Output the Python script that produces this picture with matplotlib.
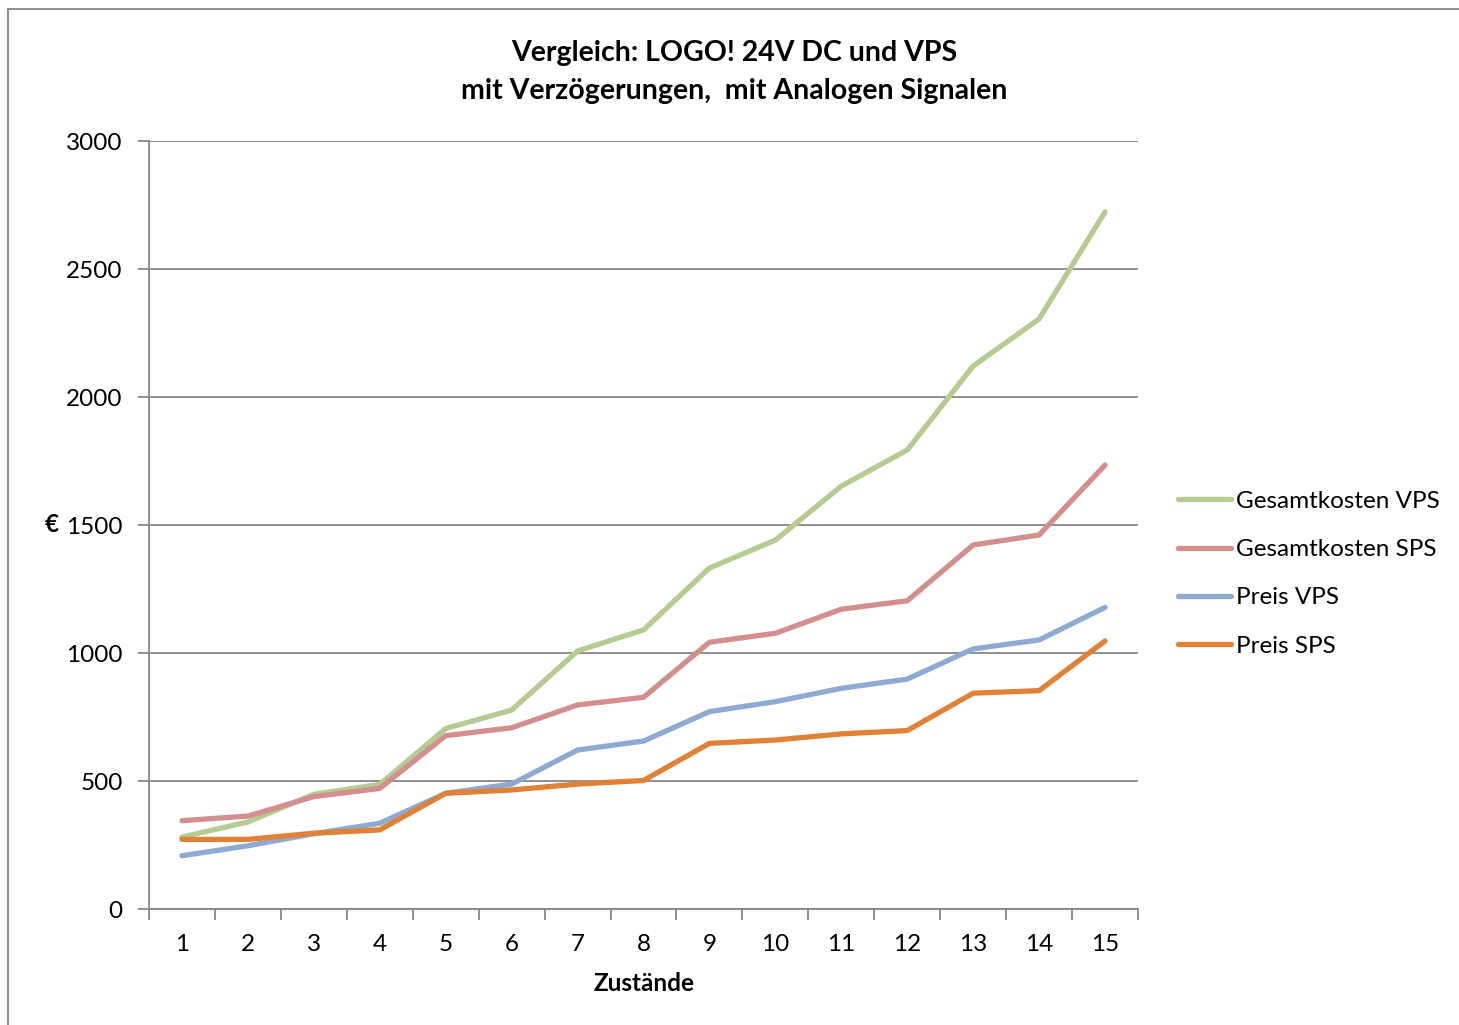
import matplotlib.pyplot as plt
from matplotlib.lines import Line2D
import numpy as np

plt.rcParams['font.family'] = ['Lato', 'DejaVu Sans']

zustaende = list(range(1, 16))
gesamt_vps = [281, 340, 448, 487, 705, 777, 1008, 1090, 1332, 1441, 1652, 1793, 2121, 2305, 2723]
gesamt_sps = [345, 363, 439, 471, 677, 708, 797, 827, 1042, 1077, 1171, 1204, 1422, 1461, 1734]
preis_vps = [208, 247, 294, 335, 452, 488, 621, 656, 771, 810, 862, 898, 1016, 1051, 1178]
preis_sps = [272, 272, 296, 309, 452, 465, 488, 502, 647, 660, 684, 697, 843, 853, 1047]

series = [
    ('Gesamtkosten VPS', gesamt_vps, '#B4CB91'),
    ('Gesamtkosten SPS', gesamt_sps, '#D38F8E'),
    ('Preis VPS', preis_vps, '#8FAAD2'),
    ('Preis SPS', preis_sps, '#DF8236'),
]

grey = '#878787'
fs = 17.5

fig = plt.figure(figsize=(14.59, 10.25), dpi=100)
ax = fig.add_axes([149/1459, 1 - 909/1025, (1138-149)/1459, (909-141)/1025])

for name, vals, col in series:
    ax.plot(zustaende, vals, color=col, lw=3.8, label=name, solid_capstyle='round')

ax.set_xlim(0.5, 15.5)
ax.set_ylim(0, 3000)
ax.set_yticks(np.arange(0, 3001, 500))
ax.yaxis.grid(True, color=grey, lw=1.3)
ax.set_axisbelow(True)

# Excel-style category axis: ticks between categories, labels centred
ax.set_xticks(np.arange(0.5, 15.6, 1))
ax.set_xticklabels([])
ax.set_xticks(zustaende, minor=True)
ax.set_xticklabels([str(z) for z in zustaende], minor=True, fontsize=fs)
ax.tick_params(axis='x', which='minor', length=0, pad=18)
ax.tick_params(axis='x', which='major', length=8, width=1.3, color=grey, direction='out')
ax.tick_params(axis='y', length=8, width=1.3, color=grey, direction='out', labelsize=fs, pad=11)

for s in ['top', 'right']:
    ax.spines[s].set_visible(False)
for s in ['left', 'bottom']:
    ax.spines[s].set_color(grey)
    ax.spines[s].set_linewidth(1.3)

ax.set_xlabel('Zustände', fontsize=fs, fontweight='bold', labelpad=12)
fig.text(52/1459, 1 - 525/1025, '€', fontsize=fs, fontweight='bold', ha='center', va='center')

fig.text(0.5035, 1 - 72/1025, 'Vergleich: LOGO! 24V DC und VPS\nmit Verzögerungen,  mit Analogen Signalen',
         fontsize=20.5, fontweight='bold', ha='center', va='center', linespacing=1.58)

ax.legend(loc='upper left', bbox_to_anchor=(1.0404, 0.5443), frameon=False, fontsize=fs,
          handlelength=2.2, handletextpad=0.2, labelspacing=1.12, borderaxespad=0, borderpad=0)

# chart area border (top and left visible)
fig.add_artist(Line2D([8/1459, 8/1459], [0, 1 - 9/1025], transform=fig.transFigure, color=grey, lw=1.3))
fig.add_artist(Line2D([8/1459, 1], [1 - 9/1025, 1 - 9/1025], transform=fig.transFigure, color=grey, lw=1.3))

fig.savefig('out.png', dpi=100)
